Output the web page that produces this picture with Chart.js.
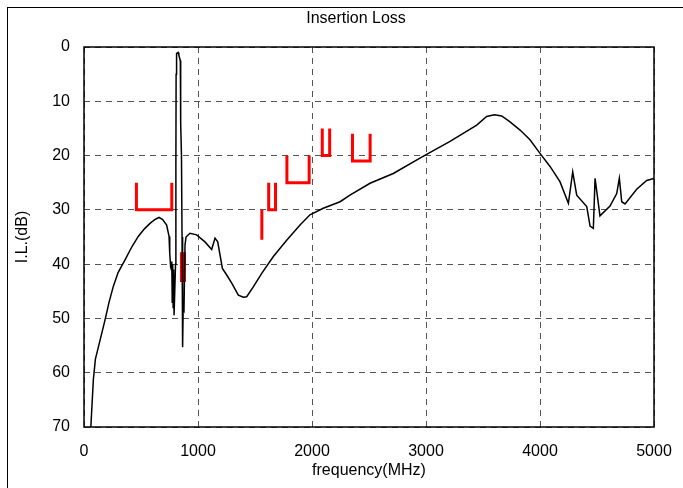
<!DOCTYPE html>
<html>
<head>
<meta charset="utf-8">
<script src="https://cdn.jsdelivr.net/npm/chart.js@4.4.1/dist/chart.umd.min.js"></script>
<style>
    html, body { margin: 0; padding: 0; background: #fff; }
    #wrap { position: relative; width: 683px; height: 488px; overflow: hidden; }
    #frame { position: absolute; left: 7px; top: 7px; width: 700px; height: 500px; border-left: 1px solid #000; border-top: 1px solid #000; }
    canvas { position: absolute; left: 0; top: 0; }
</style>
</head>
<body>
<div id="wrap">
    <div id="frame"></div>
    <canvas id="ilChart" width="683" height="488"></canvas>
</div>
<script>
// measured insertion loss curve
const freqMHz = [60, 82, 100, 134, 184, 220, 257, 300, 360, 420, 476, 530, 579, 620, 658, 690, 725, 746, 752, 760,
    766, 770, 774, 778, 782, 786, 790, 798, 803, 806, 808, 812, 826, 832, 845, 848, 855, 860, 862, 864,
    866, 868, 870, 877, 886, 895, 904, 930, 988, 1061, 1120, 1149, 1173, 1214, 1252, 1296, 1354, 1398, 1427, 1485,
    1559, 1661, 1778, 1895, 1982, 2099, 2246, 2333, 2509, 2713, 2962, 3211, 3445, 3532, 3600, 3664, 3737, 3825, 3912, 4000,
    4088, 4175, 4249, 4287, 4322, 4410, 4439, 4468, 4483, 4526, 4614, 4673, 4696, 4717, 4746, 4848, 4936, 5000];
const lossDb = [70, 61.3, 57.5, 54.6, 50.3, 47, 44.1, 41.5, 39.2, 36.8, 34.9, 33.5, 32.5, 31.8, 31.4, 31.8, 32.8, 34.9, 38, 40.5,
    41, 39.5, 47, 40, 48, 41, 49.4, 49.4, 40, 22, 5, 1.2, 1.0, 1.5, 2.5, 14, 20, 35, 47, 54,
    47, 55.3, 48, 48.4, 36.5, 35, 34.8, 34.3, 34.6, 35.9, 37.3, 35.2, 35.9, 40.8, 42, 43.5, 45.7, 46.1, 46, 44.2,
    41.7, 38.6, 35.6, 32.8, 30.9, 29.7, 28.5, 27.3, 25.1, 23.3, 20.3, 17.4, 14.4, 12.8, 12.5, 12.7, 13.8, 15.3, 17.1, 19.6,
    22, 24.8, 28.8, 23, 27.3, 29.4, 33, 33.4, 24.2, 31.1, 29.3, 27, 24.2, 28.5, 28.9, 26.2, 24.6, 24.2];

// spec mask limits (red)
const maskA_f = [460, 460, 770, 770];     const maskA_il = [25, 30, 30, 25];
const maskB_f = [868, 868];               const maskB_il = [37.8, 43.3];
const maskC_f = [1560, 1560];             const maskC_il = [30, 35.5];
const maskD_f = [1620, 1620, 1680, 1680]; const maskD_il = [25, 30, 30, 25];
const maskE_f = [1780, 1780, 1975, 1975]; const maskE_il = [20, 25, 25, 20];
const maskF_f = [2090, 2090, 2155, 2155]; const maskF_il = [15, 20, 20, 15];
const maskG_f = [2355, 2355, 2510, 2510]; const maskG_il = [16, 21, 21, 16];

const xTicks = [0, 1000, 2000, 3000, 4000, 5000];
const yTicks = [0, 10, 20, 30, 40, 50, 60, 70];

const chartTitle = 'Insertion Loss';
const xTitle = 'frequency(MHz)';
const yTitle = 'I.L.(dB)';

function toPoints(xs, ys) {
    return xs.map((x, i) => ({ x: x, y: ys[i] }));
}

function maskSet(xs, ys, width) {
    return {
        data: toPoints(xs, ys),
        borderColor: '#ff0000',
        borderWidth: width,
        pointRadius: 0,
        showLine: true,
        tension: 0,
        borderCapStyle: 'butt',
        borderJoinStyle: 'miter'
    };
}

const frameAndTitle = {
    id: 'frameAndTitle',
    afterDraw(chart) {
        const ctx = chart.ctx;
        const a = chart.chartArea;
        ctx.save();
        ctx.strokeStyle = '#000';
        ctx.lineWidth = 1.5;
        ctx.strokeRect(a.left, a.top, a.right - a.left, a.bottom - a.top);
        ctx.fillStyle = '#000';
        ctx.font = '16px "Liberation Sans", Arial, sans-serif';
        ctx.textAlign = 'center';
        ctx.textBaseline = 'middle';
        ctx.fillText(chartTitle, 356, 19);
        ctx.restore();
    }
};

const font = { family: '"Liberation Sans", Arial, sans-serif', size: 16 };

const ctx = document.getElementById('ilChart').getContext('2d');
new Chart(ctx, {
    type: 'scatter',
    data: {
        datasets: [
            {
                data: toPoints(freqMHz, lossDb),
                borderColor: '#000',
                borderWidth: 1.5,
                pointRadius: 0,
                showLine: true,
                tension: 0
            },
            maskSet(maskA_f, maskA_il, 3),
            maskSet(maskB_f, maskB_il, 6),
            maskSet(maskC_f, maskC_il, 3),
            maskSet(maskD_f, maskD_il, 3),
            maskSet(maskE_f, maskE_il, 3),
            maskSet(maskF_f, maskF_il, 3),
            maskSet(maskG_f, maskG_il, 3)
        ]
    },
    options: {
        responsive: false,
        animation: false,
        layout: { padding: { left: 12, right: 29, top: 47, bottom: 0 } },
        plugins: { legend: { display: false }, tooltip: { enabled: false } },
        scales: {
            x: {
                type: 'linear',
                min: 0,
                max: 5000,
                afterBuildTicks: (scale) => { scale.ticks = xTicks.map(v => ({ value: v })); },
                afterFit: (scale) => { scale.height = 61; scale.paddingLeft = 0; scale.paddingRight = 0; },
                ticks: { color: '#000', font: font, padding: 15, callback: (v) => String(v) },
                grid: { color: '#555', lineWidth: 1, drawTicks: false },
                border: { display: false, dash: [6, 5] },
                title: { display: true, text: xTitle, color: '#000', font: font, padding: { top: 0, bottom: 8 } }
            },
            y: {
                type: 'linear',
                reverse: true,
                min: 0,
                max: 70,
                afterBuildTicks: (scale) => { scale.ticks = yTicks.map(v => ({ value: v })); },
                afterFit: (scale) => { scale.width = 72; scale.paddingTop = 0; scale.paddingBottom = 0; },
                ticks: { color: '#000', font: font, padding: 14, callback: (v) => String(v) },
                grid: { color: '#555', lineWidth: 1, drawTicks: false },
                border: { display: false, dash: [6, 5] },
                title: { display: true, text: yTitle, color: '#000', font: font, padding: 1 }
            }
        }
    },
    plugins: [frameAndTitle]
});
</script>
</body>
</html>
